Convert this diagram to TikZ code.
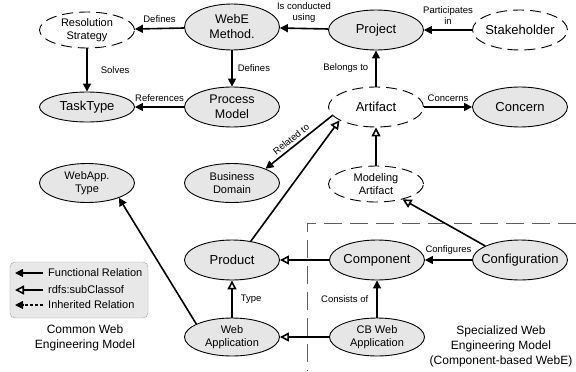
\documentclass[tikz,border=0pt]{standalone}
\usepackage{fontspec}
\setmainfont{Liberation Sans}
\usetikzlibrary{arrows.meta,shapes.geometric}
\definecolor{conceptfill}{HTML}{E6E6E6}
\definecolor{legendfill}{HTML}{E8E8E8}
\definecolor{legenddraw}{HTML}{A0A0A0}
\definecolor{regiondraw}{HTML}{606060}
\tikzset{
  concept/.style={draw, ellipse, fill=conceptfill, line width=0.9bp,
    minimum width=95bp, minimum height=40bp, inner xsep=-12bp, inner ysep=0pt,
    align=center, font=\fontsize{13bp}{15bp}\selectfont},
  twoline/.style={font=\fontsize{12.5bp}{15bp}\selectfont},
  smallconcept/.style={font=\fontsize{11bp}{13bp}\selectfont},
  abstractconcept/.style={concept, fill=white, dash pattern=on 11bp off 6bp},
  rel/.style={-{Triangle[length=8bp,width=8bp]}, line width=1.6bp},
  isa/.style={-{Triangle[open,length=9bp,width=9bp,fill=white]}, line width=1.6bp},
  inherited/.style={rel, dash pattern=on 3bp off 2bp},
  edgelabel/.style={font=\fontsize{9.5bp}{11bp}\selectfont, align=center, inner sep=1bp},
  legendtext/.style={font=\fontsize{11bp}{13bp}\selectfont, anchor=west, inner sep=0pt},
  regionlabel/.style={font=\fontsize{12bp}{15bp}\selectfont, align=center}
}
\begin{document}
\begin{tikzpicture}[x=1bp, y=1bp]
\useasboundingbox (0,0) rectangle (576,371);
\draw[regiondraw, line width=1bp, dash pattern=on 18bp off 8bp] (576,148) -| (307,0);
\node (resolution) [abstractconcept, smallconcept, minimum height=36bp] at (87,341) {Resolution\\Strategy};
\node (webe) [concept, twoline, minimum height=46bp] at (232,344) {WebE\\Method.};
\node (project) [concept] at (376,341) {Project};
\node (stakeholder) [abstractconcept] at (520,341) {Stakeholder};
\node (tasktype) [concept, minimum height=30bp] at (87,264) {TaskType};
\node (process) [concept, twoline] at (232,264) {Process\\Model};
\node (artifact) [abstractconcept] at (376,264) {Artifact};
\node (concern) [concept] at (520,264) {Concern};
\node (webapptype) [concept, smallconcept, minimum height=39bp] at (87,188) {WebApp.\\Type};
\node (business) [concept, smallconcept, minimum height=39bp] at (232,188) {Business\\Domain};
\node (modeling) [abstractconcept, smallconcept, minimum height=36bp] at (376,187) {Modeling\\Artifact};
\node (product) [concept] at (232,111) {Product};
\node (component) [concept] at (377,111) {Component};
\node (configuration) [concept] at (520,111) {Configuration};
\node (webapp) [concept, smallconcept, minimum height=38bp] at (232,34) {Web\\Application};
\node (cbwebapp) [concept, smallconcept, minimum height=38bp] at (377,34) {CB~Web\\Application};
\draw[rel] (webe) -- node[edgelabel, above=4bp] {Defines} (resolution);
\draw[rel] (webe) -- node[edgelabel, right=4bp] {Defines} (process);
\draw[rel] (resolution) -- node[edgelabel, right=12bp] {Solves} (tasktype);
\draw[rel] (process) -- node[edgelabel, above=4bp] {References} (tasktype);
\draw[rel] (project) -- node[edgelabel, above=4bp] {Is conducted\\using} (webe);
\draw[rel] (stakeholder) -- node[edgelabel, above=4bp] {Participates\\in} (project);
\draw[rel] (artifact) -- node[edgelabel, left=6bp] {Belongs to} (project);
\draw[rel] (artifact) -- node[edgelabel, above=4bp] {Concerns} (concern);
\draw[rel] (artifact.191) -- node[edgelabel, sloped, above=2bp, pos=0.55] {Related to} (business.23);
\draw[isa] (product.45) -- (artifact.200);
\draw[isa] (modeling) -- (artifact);
\draw[isa] (configuration.158) -- (modeling.330);
\draw[rel] (configuration) -- node[edgelabel, above=4bp] {Configures} (component);
\draw[isa] (component) -- (product);
\draw[isa] (cbwebapp) -- (webapp);
\draw[rel] (cbwebapp) -- node[edgelabel, left=7bp] {Consists of} (component);
\draw[isa] (webapp) -- node[edgelabel, right=7bp] {Type} (product);
\draw[rel] (webapp.160) -- (webapptype.335);
\node (legend) [draw=legenddraw, fill=legendfill, rounded corners=5bp,
  minimum width=138bp, minimum height=56bp] at (79,81) {};
\node (lgfun) [legendtext] at (48,98) {Functional Relation};
\node (lgisa) [legendtext] at (48,81) {rdfs:subClassof};
\node (lginh) [legendtext] at (48,66) {Inherited Relation};
\coordinate (funtip) at (15,98);
\coordinate (isatip) at (15,81);
\coordinate (inhtip) at (15,66);
\draw[rel] ([xshift=-5bp]lgfun.west) -- (funtip);
\draw[isa] ([xshift=-5bp]lgisa.west) -- (isatip);
\draw[inherited] ([xshift=-5bp]lginh.west) -- (inhtip);
\node (commonlbl) [regionlabel] at (85,33) {Common Web\\Engineering Model};
\node (speclbl) [regionlabel] at (501,25) {Specialized Web\\Engineering Model\\(Component-based WebE)};
\end{tikzpicture}
\end{document}
